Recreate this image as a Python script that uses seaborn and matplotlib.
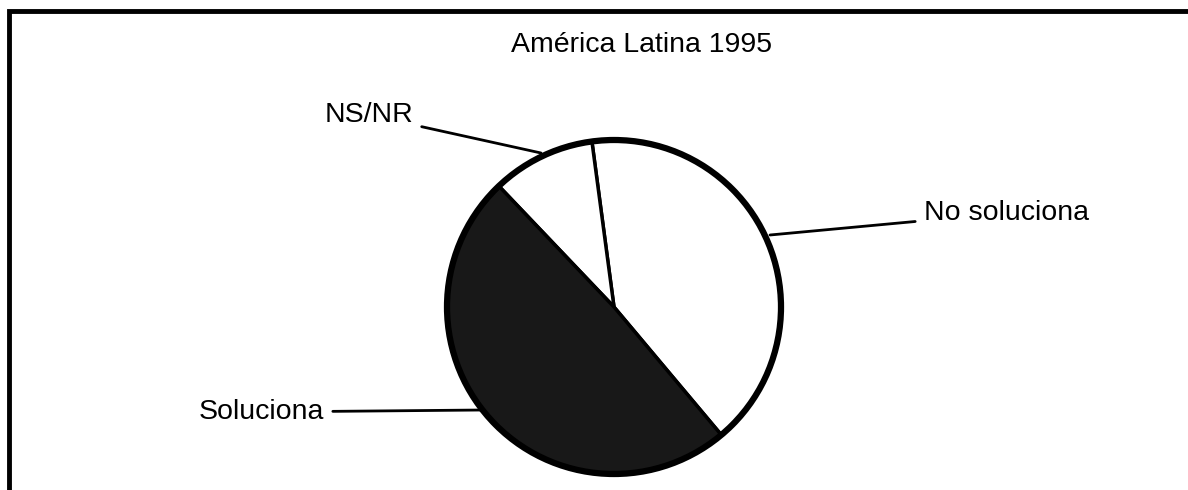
import matplotlib
matplotlib.use("Agg")
import matplotlib.pyplot as plt
import seaborn as sns
from matplotlib.patches import Circle

# data (percent)
labels = ['No soluciona', 'NS/NR', 'Soluciona']
values = [41, 10, 49]
colors = ['white', 'white', '#181818']
title = 'América Latina 1995'

sns.set_theme(style='white')
plt.rcParams['font.family'] = ['Liberation Sans', 'DejaVu Sans']
plt.rcParams['text.color'] = 'black'

W, H = 1188, 490
fig = plt.figure(figsize=(W / 100, H / 100), dpi=100)
ax = fig.add_axes([0, 0, 1, 1])

wedges, _ = ax.pie(values, colors=colors, startangle=-50, counterclock=True,
                   center=(614, H - 307), radius=167,
                   wedgeprops=dict(edgecolor='black', linewidth=2.5))
# heavier outer ring, like the print
w0 = wedges[0]
ax.add_patch(Circle(w0.center, w0.r, fill=False, edgecolor='black', lw=4.5, zorder=5))

# pie() resets the limits, so set them afterwards
ax.set_xlim(0, W)
ax.set_ylim(0, H)
ax.set_aspect('equal')
ax.axis('off')

# frame: only top and left edges show in the scan
ax.plot([9, 9, W], [0, H - 11, H - 11], color='black', lw=3.5, solid_joinstyle='miter')

fs = 20.5
ax.text(642, H - 45, title, ha='center', va='center', fontsize=fs)

line = dict(arrowstyle='-', color='black', lw=2, shrinkA=4, shrinkB=0)
ax.annotate(labels[1], xy=(541, H - 153), xytext=(413, H - 115),
            ha='right', va='center', fontsize=fs, arrowprops=line)
ax.annotate(labels[0], xy=(770, H - 235), xytext=(924, H - 213),
            ha='left', va='center', fontsize=fs, arrowprops=line)
ax.annotate(labels[2], xy=(483, H - 410), xytext=(324, H - 412),
            ha='right', va='center', fontsize=fs, arrowprops=line)

fig.savefig('out.png', dpi=100, facecolor='white')
